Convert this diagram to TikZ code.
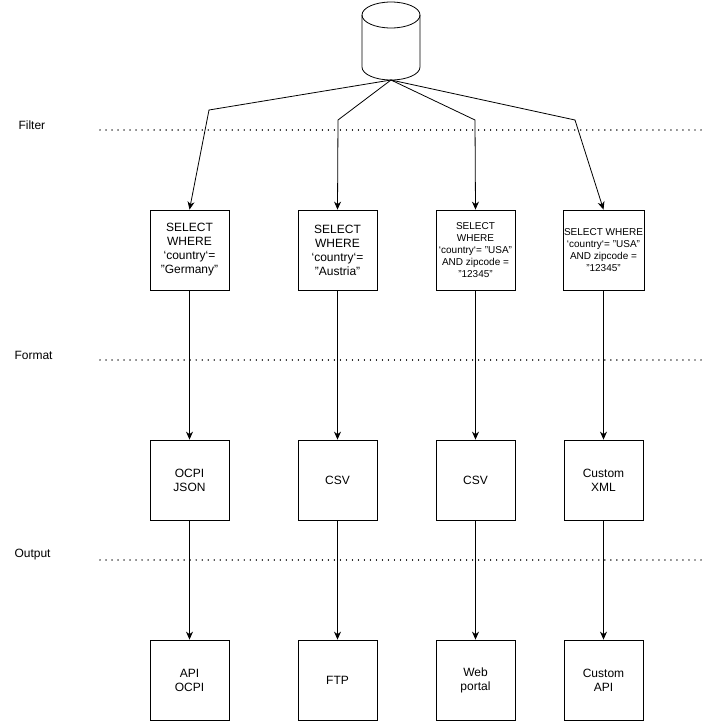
\documentclass[tikz,border=0pt]{standalone}
\usepackage{fontspec}
\setmainfont[Ligatures=NoCommon]{Liberation Sans}
\usetikzlibrary{arrows.meta}
\newcommand{\qq}{\symbol{34}}
\newcommand{\bq}{\symbol{96}}
\begin{document}
\begin{tikzpicture}[x=1pt,y=-1pt,
  box/.style={draw,thick,minimum width=79pt,minimum height=80pt,align=center,font=\fontsize{12}{14}\selectfont,inner sep=1pt},
  sbox/.style={box,font=\fontsize{10}{12}\selectfont},
  arr/.style={-{Stealth[length=8pt,width=7pt]},thick},
  dot/.style={line width=1.3pt,dash pattern=on 0.01pt off 6pt,line cap=round},
  lab/.style={font=\fontsize{12}{14}\selectfont,anchor=west}]
\useasboundingbox (0,0) rectangle (702,721);
\draw[thick,fill=white] (362,15) -- (362,67) arc[start angle=180,end angle=360,x radius=29,y radius=-13] -- (420,15);
\draw[thick] (391,15) ellipse[x radius=29,y radius=13];
\coordinate (s) at (391,80);
\draw[dot] (100,130) -- (702,130);
\draw[dot] (100,360) -- (702,360);
\draw[dot] (100,560) -- (702,560);
\node[lab] (l1) at (15,125) {Filter};
\node[lab] (l2) at (11,355) {Format};
\node[lab] (l3) at (11,555) {Output};
\node[box] (a1) at (189.5,250) {SELECT\\WHERE\\\bq country\bq=\\\qq Germany\qq};
\node[box] (b1) at (337.5,250) {SELECT\\WHERE\\\bq country\bq=\\\qq Austria\qq};
\node[sbox] (c1) at (475.5,250) {SELECT\\WHERE\\\bq country\bq= \qq USA\qq\\AND zipcode =\\\qq 12345\qq};
\node[sbox] (d1) at (603.5,250) {SELECT WHERE\\\bq country\bq= \qq USA\qq\\AND zipcode =\\\qq 12345\qq};
\node[box] (a2) at (189.5,480) {OCPI\\JSON};
\node[box] (b2) at (337.5,480) {CSV};
\node[box] (c2) at (475.5,480) {CSV};
\node[box] (d2) at (603.5,480) {Custom\\XML};
\node[box] (a3) at (189.5,680) {API\\OCPI};
\node[box] (b3) at (337.5,680) {FTP};
\node[box] (c3) at (475.5,680) {Web\\portal};
\node[box] (d3) at (603.5,680) {Custom\\API};
\coordinate (k1) at (209,110);
\coordinate (k2) at (338,120);
\coordinate (k3) at (475,120);
\coordinate (k4) at (575,120);
\draw[arr] (s) -- (k1) -- (a1.north);
\draw[arr] (s) -- (k2) -- (b1.north);
\draw[arr] (s) -- (k3) -- (c1.north);
\draw[arr] (s) -- (k4) -- (d1.north);
\foreach \c in {a,b,c,d}{
  \draw[arr] (\c1) -- (\c2);
  \draw[arr] (\c2) -- (\c3);
}
\end{tikzpicture}
\end{document}
